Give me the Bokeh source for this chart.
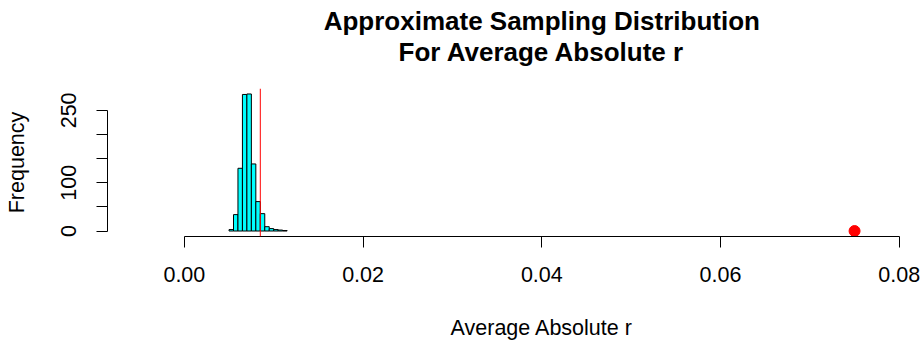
from bokeh.plotting import figure
from bokeh.models import FixedTicker, Span, Label, Range1d
from bokeh.layouts import column
from bokeh.embed import file_html
from bokeh.resources import INLINE

# Histogram data (bin width 0.0005)
bin_left = [0.0050, 0.0055, 0.0060, 0.0065, 0.0070, 0.0075, 0.0080, 0.0085,
            0.0090, 0.0095, 0.0100, 0.0105, 0.0110]
bin_right = [0.0055, 0.0060, 0.0065, 0.0070, 0.0075, 0.0080, 0.0085, 0.0090,
             0.0095, 0.0100, 0.0105, 0.0110, 0.0115]
counts = [3, 34, 130, 283, 284, 139, 61, 36, 9, 5, 3, 2, 1]

observed_mean = 0.0085      # red vertical line
observed_stat = [0.075]     # red point
observed_y = [0]

x_ticks = [0.00, 0.02, 0.04, 0.06, 0.08]
x_labels = ["0.00", "0.02", "0.04", "0.06", "0.08"]
y_ticks = [0, 50, 100, 150, 200, 250]
y_labels = ["0", "", "100", "", "", "250"]

title_lines = ["Approximate Sampling Distribution", "For Average Absolute r"]
x_title = "Average Absolute r"
y_title = "Frequency"

FONT = "Liberation Sans"
LBL = "21.5px"
W = 922
LEFT, RIGHT = 107, 17

# R-style plot region: 4% padding around the data limits
ymax = max(counts)
x_range = Range1d(-0.0086, 0.0807)
y_range = Range1d(-0.04 * ymax, 1.04 * ymax)


def bare(height):
    f = figure(width=W, height=height, output_backend="svg",
               toolbar_location=None, x_axis_location=None,
               y_axis_location=None, x_range=x_range,
               y_range=Range1d(0, height), min_border_left=LEFT,
               min_border_right=RIGHT, min_border_top=0, min_border_bottom=0,
               background_fill_color="white", border_fill_color="white")
    f.outline_line_color = None
    f.grid.visible = False
    return f


mid_x = (x_ticks[0] + x_ticks[-1]) / 2

# --- title strip ---
top = bare(88)
for line, yy in zip(title_lines, [68, 37]):
    top.add_layout(Label(x=mid_x, y=yy, text=line, text_align="center",
                         text_baseline="alphabetic", text_font=FONT,
                         text_font_size="26px", text_font_style="bold",
                         text_color="black"))

# --- main plot ---
p = figure(width=W, height=212, output_backend="svg", toolbar_location=None,
           x_range=x_range, y_range=y_range,
           min_border_left=LEFT, min_border_right=RIGHT, min_border_top=0,
           min_border_bottom=64, background_fill_color="white",
           border_fill_color="white")
p.outline_line_color = None
p.grid.visible = False

p.quad(left=bin_left, right=bin_right, bottom=0, top=counts,
       fill_color="#00FFFF", line_color="black", line_width=1)
p.add_layout(Span(location=observed_mean, dimension="height",
                  line_color="red", line_width=1))
p.scatter(observed_stat, observed_y, size=11, color="red", marker="circle")

xa = p.xaxis[0]
xa.ticker = FixedTicker(ticks=x_ticks)
xa.major_label_overrides = {t: l for t, l in zip(x_ticks, x_labels)}
xa.bounds = (x_ticks[0], x_ticks[-1])
ya = p.yaxis[0]
ya.ticker = FixedTicker(ticks=y_ticks)
ya.major_label_overrides = {t: l for t, l in zip(y_ticks, y_labels)}
ya.bounds = (y_ticks[0], y_ticks[-1])
ya.axis_label = y_title
ya.major_label_orientation = "vertical"

for ax in (xa, ya):
    ax.minor_tick_line_color = None
    ax.major_tick_out = 11
    ax.major_tick_in = 0
    ax.axis_line_color = "black"
    ax.major_tick_line_color = "black"
    ax.major_label_text_font = FONT
    ax.major_label_text_font_size = LBL
    ax.major_label_text_color = "black"
    ax.axis_label_text_font = FONT
    ax.axis_label_text_font_size = LBL
    ax.axis_label_text_font_style = "normal"
    ax.axis_label_text_color = "black"
xa.major_label_standoff = 19
ya.major_label_standoff = 20
ya.axis_label_standoff = 30

# --- x axis title strip ---
bot = bare(45)
bot.add_layout(Label(x=mid_x, y=18, text=x_title, text_align="center",
                     text_baseline="alphabetic", text_font=FONT,
                     text_font_size=LBL, text_color="black"))

layout = column(top, p, bot, spacing=0)
open("out.html", "w").write(file_html(layout, INLINE))
